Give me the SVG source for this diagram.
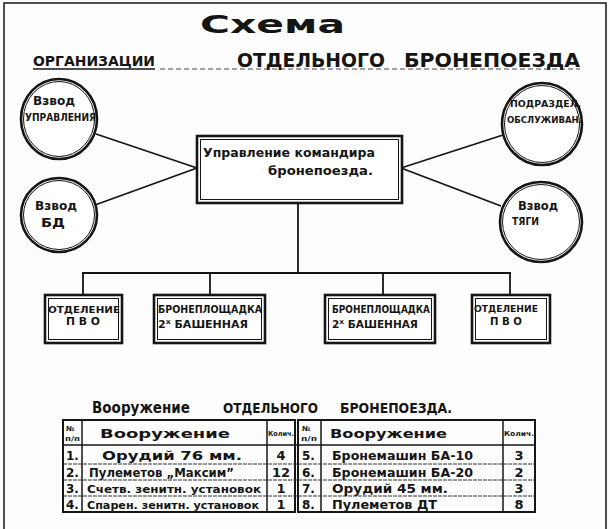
<svg xmlns="http://www.w3.org/2000/svg" width="610" height="529" viewBox="0 0 610 529">
<defs>
<style>
.t{font-family:"DejaVu Sans","Liberation Sans",sans-serif;font-weight:bold;fill:#151515}
.s{stroke:#151515;fill:none}
.o{stroke:#151515;stroke-width:2.6;fill:#fff}
.i{stroke:#151515;stroke-width:1;fill:none}
.c{stroke:#151515;stroke-width:1.8;fill:none}
.r{stroke:#333;stroke-width:1;stroke-dasharray:4 1}
.n{font-size:13px;text-anchor:middle}
</style>
</defs>
<rect x="0" y="0" width="610" height="529" fill="#fdfdfd"/>
<g id="page-border">
<path class="s" d="M4 529 V3 H606 V529" stroke="#777" stroke-width="1.5"/>
</g>
<g id="title">
<text class="t" x="200" y="33" font-size="25" textLength="145" lengthAdjust="spacingAndGlyphs">Схема</text>
<text class="t" x="33" y="66" font-size="14" textLength="122" lengthAdjust="spacingAndGlyphs">ОРГАНИЗАЦИИ</text>
<line class="s" x1="33" y1="69" x2="155" y2="69" stroke-width="1.5"/>
<line class="s" x1="160" y1="69" x2="580" y2="69" stroke="#999" stroke-width="0.8" stroke-dasharray="5 3"/>
<text class="t" x="237" y="67" font-size="20" textLength="148" lengthAdjust="spacingAndGlyphs">ОТДЕЛЬНОГО</text>
<text class="t" x="404" y="67" font-size="20" textLength="176" lengthAdjust="spacingAndGlyphs">БРОНЕПОЕЗДА</text>
</g>
<g id="connectors">
<line class="c" x1="96" y1="134" x2="197" y2="168"/>
<line class="c" x1="95" y1="205" x2="197" y2="168"/>
<line class="c" x1="401" y1="168" x2="503" y2="135"/>
<line class="c" x1="401" y1="168" x2="501" y2="206"/>
<line class="c" x1="298" y1="203" x2="298" y2="273"/>
<line class="c" x1="82" y1="273" x2="511" y2="273" stroke-width="2.2"/>
<line class="c" x1="83" y1="273" x2="83" y2="295"/>
<line class="c" x1="210" y1="273" x2="210" y2="295"/>
<line class="c" x1="383" y1="273" x2="383" y2="295"/>
<line class="c" x1="510" y1="273" x2="510" y2="295"/>
</g>
<g id="node-vzvod-upr">
<ellipse class="o" cx="59" cy="119" rx="38" ry="40"/>
<ellipse class="i" cx="59" cy="119" rx="35.5" ry="37.5"/>
<text class="t" x="33" y="105" font-size="12" textLength="42" lengthAdjust="spacingAndGlyphs">Взвод</text>
<text class="t" x="25" y="121" font-size="10" textLength="71" lengthAdjust="spacingAndGlyphs">УПРАВЛЕНИЯ</text>
</g>
<g id="node-vzvod-bd">
<ellipse class="o" cx="59" cy="215" rx="38" ry="37"/>
<ellipse class="i" cx="59" cy="215" rx="35.5" ry="34.5"/>
<text class="t" x="35" y="210" font-size="12" textLength="42" lengthAdjust="spacingAndGlyphs">Взвод</text>
<text class="t" x="41" y="227" font-size="12" textLength="24" lengthAdjust="spacingAndGlyphs">БД</text>
</g>
<g id="node-upr-komandira">
<rect class="o" x="197" y="136" width="205" height="67"/>
<rect class="i" x="200.5" y="139.5" width="198" height="60"/>
<text class="t" x="203" y="157" font-size="12" textLength="172" lengthAdjust="spacingAndGlyphs">Управление командира</text>
<text class="t" x="268" y="175" font-size="12" textLength="105" lengthAdjust="spacingAndGlyphs">бронепоезда.</text>
</g>
<g id="node-podrazdel">
<ellipse class="o" cx="542" cy="124" rx="40" ry="41"/>
<ellipse class="i" cx="542" cy="124" rx="37.5" ry="38.5"/>
<text class="t" x="510" y="107" font-size="9" textLength="71" lengthAdjust="spacingAndGlyphs">ПОДРАЗДЕЛ.</text>
<text class="t" x="507" y="123" font-size="9" textLength="75" lengthAdjust="spacingAndGlyphs">ОБСЛУЖИВАН.</text>
</g>
<g id="node-vzvod-tyagi">
<ellipse class="o" cx="541" cy="222" rx="41" ry="40"/>
<ellipse class="i" cx="541" cy="222" rx="38.5" ry="37.5"/>
<text class="t" x="518" y="210" font-size="12" textLength="40" lengthAdjust="spacingAndGlyphs">Взвод</text>
<text class="t" x="512" y="225" font-size="11" textLength="27" lengthAdjust="spacingAndGlyphs">ТЯГИ</text>
</g>
<g id="node-otd-pvo-1">
<rect class="o" x="45" y="295" width="77" height="48"/>
<rect class="i" x="48.5" y="298.5" width="70" height="41"/>
<text class="t" x="48" y="313" font-size="9" textLength="72" lengthAdjust="spacingAndGlyphs">ОТДЕЛЕНИЕ</text>
<text class="t" x="66" y="325" font-size="10" textLength="34" lengthAdjust="spacingAndGlyphs">П В О</text>
</g>
<g id="node-bronepl-1">
<rect class="o" x="154" y="295" width="111" height="48"/>
<rect class="i" x="157.5" y="298.5" width="104" height="41"/>
<text class="t" x="158" y="313" font-size="10" textLength="104" lengthAdjust="spacingAndGlyphs">БРОНЕПЛОЩАДКА</text>
<text class="t" x="158" y="328" font-size="10" textLength="90" lengthAdjust="spacingAndGlyphs">2<tspan font-size="7" dy="-4">х</tspan><tspan dy="4"> БАШЕННАЯ</tspan></text>
</g>
<g id="node-bronepl-2">
<rect class="o" x="325" y="295" width="110" height="48"/>
<rect class="i" x="328.5" y="298.5" width="103" height="41"/>
<text class="t" x="332" y="313" font-size="10" textLength="98" lengthAdjust="spacingAndGlyphs">БРОНЕПЛОЩАДКА</text>
<text class="t" x="332" y="328" font-size="10" textLength="86" lengthAdjust="spacingAndGlyphs">2<tspan font-size="7" dy="-4">х</tspan><tspan dy="4"> БАШЕННАЯ</tspan></text>
</g>
<g id="node-otd-pvo-2">
<rect class="o" x="472" y="295" width="78" height="48"/>
<rect class="i" x="475.5" y="298.5" width="71" height="41"/>
<text class="t" x="474" y="312" font-size="9" textLength="64" lengthAdjust="spacingAndGlyphs">ОТДЕЛЕНИЕ</text>
<text class="t" x="490" y="325" font-size="10" textLength="32" lengthAdjust="spacingAndGlyphs">П В О</text>
</g>
<g id="table">
<text class="t" x="92" y="413" font-size="15" textLength="98" lengthAdjust="spacingAndGlyphs">Вооружение</text>
<text class="t" x="223" y="413" font-size="14" textLength="95" lengthAdjust="spacingAndGlyphs">ОТДЕЛЬНОГО</text>
<text class="t" x="340" y="413" font-size="14" textLength="112" lengthAdjust="spacingAndGlyphs">БРОНЕПОЕЗДА.</text>
<rect class="s" x="63" y="420" width="232" height="92" stroke-width="2"/>
<rect class="s" x="298" y="420" width="237" height="92" stroke-width="2"/>
<line class="s" x1="82" y1="420" x2="82" y2="512" stroke-width="1.5"/>
<line class="s" x1="267" y1="420" x2="267" y2="512" stroke-width="1.5"/>
<line class="s" x1="321" y1="420" x2="321" y2="512" stroke-width="1.5"/>
<line class="s" x1="503" y1="420" x2="503" y2="512" stroke-width="1.5"/>
<line class="s" x1="63" y1="445" x2="535" y2="445" stroke-width="1.5"/>
<line class="r" x1="63" y1="464" x2="535" y2="464"/>
<line class="r" x1="63" y1="480" x2="535" y2="480"/>
<line class="r" x1="63" y1="496" x2="535" y2="496"/>
<text class="t" x="66" y="431" font-size="7">№</text>
<text class="t" x="65" y="441" font-size="7" textLength="15" lengthAdjust="spacingAndGlyphs">п/п</text>
<text class="t" x="100" y="438" font-size="13" textLength="130" lengthAdjust="spacingAndGlyphs">Вооружение</text>
<text class="t" x="268" y="436" font-size="7" textLength="26" lengthAdjust="spacingAndGlyphs">Колич.</text>
<text class="t" x="302" y="431" font-size="7">№</text>
<text class="t" x="301" y="441" font-size="7" textLength="16" lengthAdjust="spacingAndGlyphs">п/п</text>
<text class="t" x="330" y="438" font-size="13" textLength="117" lengthAdjust="spacingAndGlyphs">Вооружение</text>
<text class="t" x="504" y="436" font-size="7" textLength="30" lengthAdjust="spacingAndGlyphs">Колич.</text>
<text class="t" x="66" y="460" font-size="12">1.</text>
<text class="t" x="102" y="460" font-size="13" textLength="140" lengthAdjust="spacingAndGlyphs">Орудий 76 мм.</text>
<text class="t n" x="281" y="460">4</text>
<text class="t" x="66" y="477" font-size="12">2.</text>
<text class="t" x="89" y="477" font-size="12" textLength="145" lengthAdjust="spacingAndGlyphs">Пулеметов „Максим”</text>
<text class="t n" x="281" y="477">12</text>
<text class="t" x="66" y="493" font-size="12">3.</text>
<text class="t" x="87" y="493" font-size="11" textLength="174" lengthAdjust="spacingAndGlyphs">Счетв. зенитн. установок</text>
<text class="t n" x="281" y="493">1</text>
<text class="t" x="66" y="509" font-size="12">4.</text>
<text class="t" x="87" y="509" font-size="11" textLength="172" lengthAdjust="spacingAndGlyphs">Спарен. зенитн. установок</text>
<text class="t n" x="281" y="509">1</text>
<text class="t" x="302" y="460" font-size="12">5.</text>
<text class="t" x="332" y="460" font-size="12" textLength="141" lengthAdjust="spacingAndGlyphs">Бронемашин  БА-10</text>
<text class="t n" x="519" y="460">3</text>
<text class="t" x="302" y="477" font-size="12">6.</text>
<text class="t" x="332" y="477" font-size="12" textLength="141" lengthAdjust="spacingAndGlyphs">Бронемашин  БА-20</text>
<text class="t n" x="519" y="477">2</text>
<text class="t" x="302" y="493" font-size="12">7.</text>
<text class="t" x="332" y="493" font-size="12" textLength="116" lengthAdjust="spacingAndGlyphs">Орудий  45 мм.</text>
<text class="t n" x="519" y="493">3</text>
<text class="t" x="302" y="509" font-size="12">8.</text>
<text class="t" x="332" y="509" font-size="12" textLength="105" lengthAdjust="spacingAndGlyphs">Пулеметов  ДТ</text>
<text class="t n" x="519" y="509">8</text>
</g>
</svg>
